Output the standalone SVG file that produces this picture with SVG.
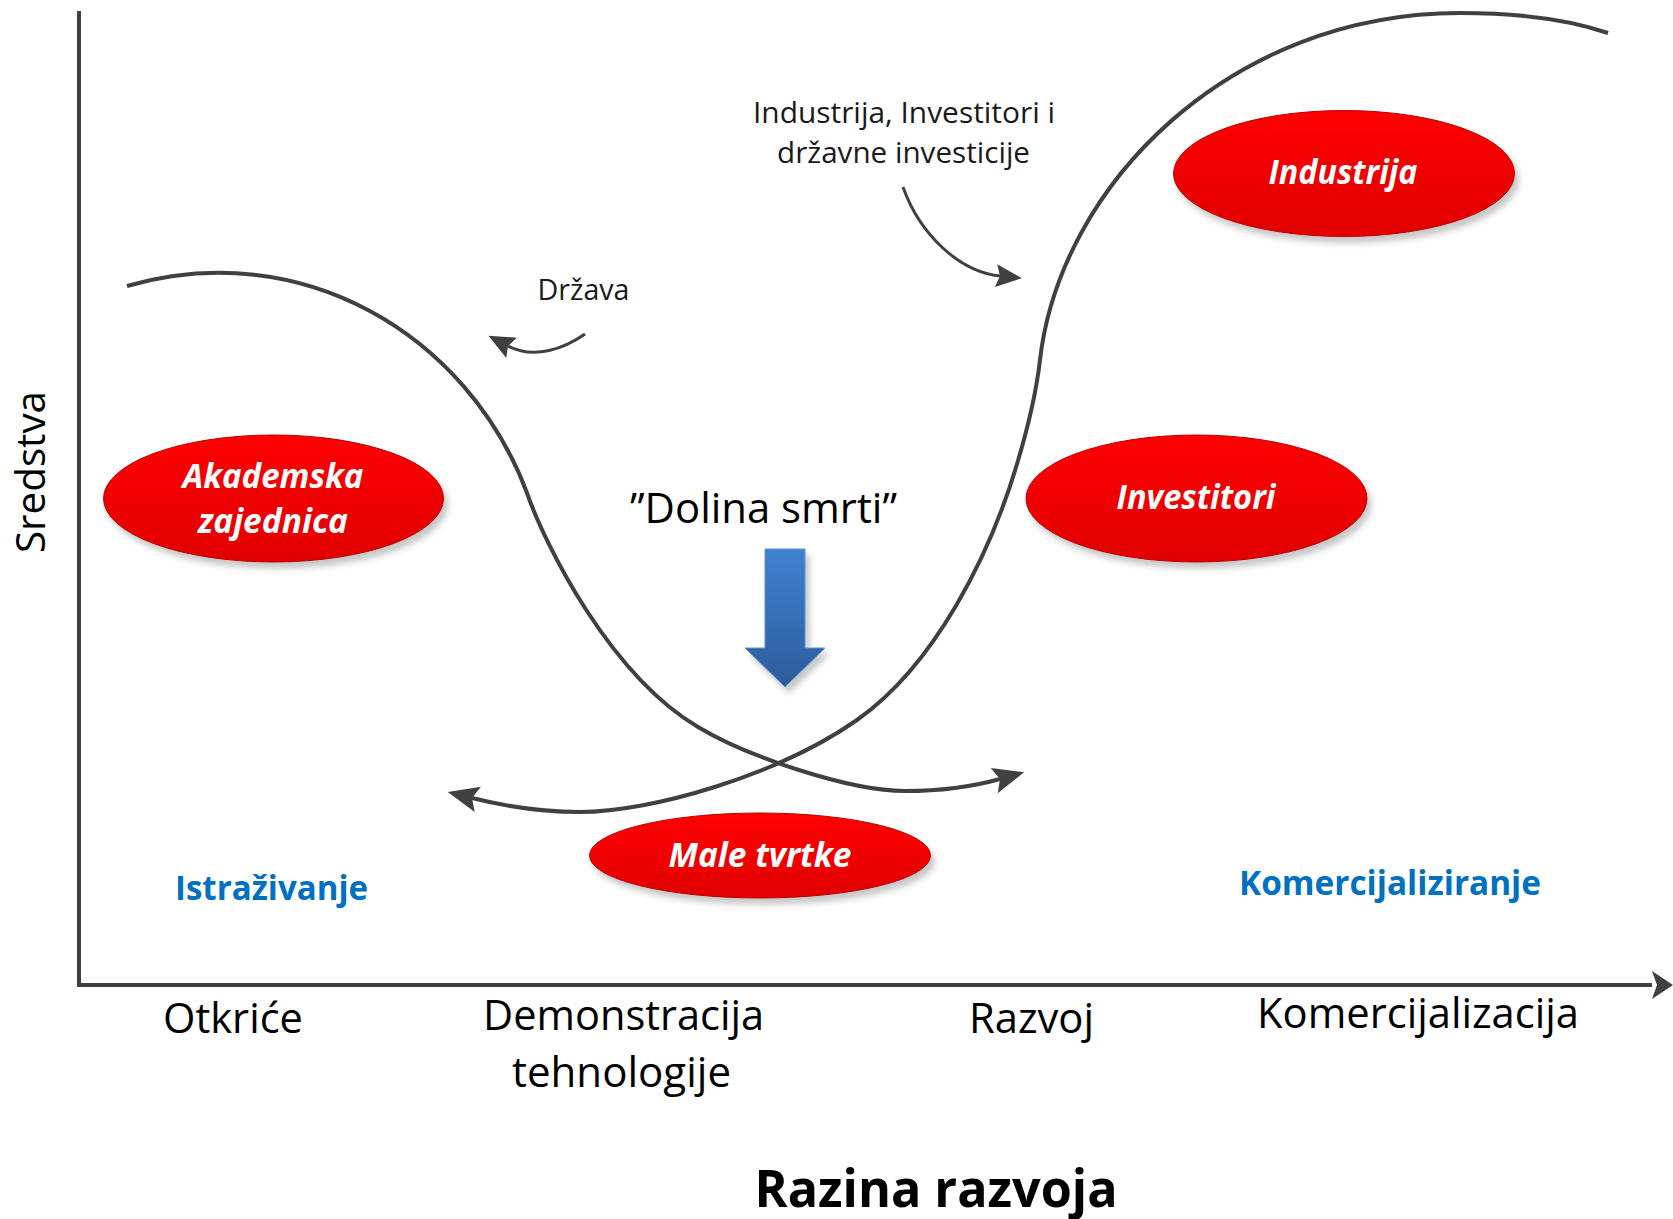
<svg xmlns="http://www.w3.org/2000/svg" width="1673" height="1219" viewBox="0 0 1673 1219">
<style>
  .txt { font-family: "Open Sans", "Liberation Sans", sans-serif; fill: #000; }
  .node-label { font-family: "Open Sans", "Liberation Sans", sans-serif; font-weight: bold; font-style: italic; font-size: 34px; fill: #fff; text-anchor: middle; }
  .phase { font-family: "Open Sans", "Liberation Sans", sans-serif; font-weight: bold; font-size: 34px; fill: #0070c0; text-anchor: middle; }
  .stage { font-family: "Open Sans", "Liberation Sans", sans-serif; font-size: 42px; fill: #000; text-anchor: middle; }
  .note { font-family: "Open Sans", "Liberation Sans", sans-serif; font-size: 29px; fill: #1a1a1a; text-anchor: middle; }
  .curve { fill: none; stroke: #404040; stroke-width: 4; }
  .thin { fill: none; stroke: #404040; stroke-width: 3; }
  .axis { fill: none; stroke: #404040; stroke-width: 4; }
  .blob { fill: url(#redGrad); stroke: #b80000; stroke-width: 1; filter: url(#shadow); }
</style>
<defs>
  <linearGradient id="redGrad" x1="0" y1="0" x2="0" y2="1">
    <stop offset="0" stop-color="#ff0000"/>
    <stop offset="1" stop-color="#e00000"/>
  </linearGradient>
  <linearGradient id="blueGrad" x1="0" y1="0" x2="0" y2="1">
    <stop offset="0" stop-color="#4181d1"/>
    <stop offset="1" stop-color="#2b5c99"/>
  </linearGradient>
  <filter id="shadow" x="-20%" y="-20%" width="140%" height="150%">
    <feGaussianBlur in="SourceAlpha" stdDeviation="3"/>
    <feOffset dx="4" dy="6" result="b"/>
    <feFlood flood-color="#000" flood-opacity="0.22"/>
    <feComposite in2="b" operator="in"/>
    <feMerge><feMergeNode/><feMergeNode in="SourceGraphic"/></feMerge>
  </filter>
  <marker id="headBig" markerUnits="userSpaceOnUse" markerWidth="40" markerHeight="40" refX="0" refY="0" orient="auto-start-reverse" overflow="visible">
    <path d="M25,0 L-6,-13 L0,0 L-6,13 Z" fill="#404040"/>
  </marker>
  <marker id="headSmall" markerUnits="userSpaceOnUse" markerWidth="40" markerHeight="40" refX="0" refY="0" orient="auto" overflow="visible">
    <path d="M22,0 L-4,-11.5 L0,0 L-4,11.5 Z" fill="#404040"/>
  </marker>
</defs>

<rect x="0" y="0" width="1673" height="1219" fill="#fff"/>

<g id="axes">
  <line class="axis" x1="79" y1="11" x2="79" y2="987"/>
  <line class="axis" x1="77" y1="985" x2="1652" y2="985"/>
  <path d="M1673,985 L1652,971 L1657,985 L1652,999 Z" fill="#404040"/>
  <text class="txt" font-size="40" text-anchor="middle" textLength="162" lengthAdjust="spacingAndGlyphs" transform="translate(45,472) rotate(-90)">Sredstva</text>
</g>

<g id="connectors">
  <path id="curve-academic" class="curve" marker-end="url(#headBig)" d="M127,286 C300,236 467,333 527,493 C545,545 610,675 698,727 C748,757 850,791 905,791 C940,791 975,786 1000,779"/>
  <path id="curve-industry" class="curve" marker-start="url(#headBig)" d="M472,798 C508,807 545,812 580,812 C650,812 777,776 857,720 C935,665 990,555 1017,464 C1029,424 1036,395 1040,360 C1060,185 1230,13 1460,13 C1520,13 1570,20 1608,33"/>
  <path id="arrow-drzava" class="thin" marker-end="url(#headSmall)" d="M585,334 C565,348 535,360 508,346"/>
  <path id="arrow-investicije" class="thin" marker-end="url(#headSmall)" d="M903,187 C920,235 960,272 1000,276"/>
</g>

<g id="node-akademska">
  <ellipse class="blob" cx="273.5" cy="498.5" rx="170" ry="63.5"/>
  <text class="node-label" x="273" y="488" textLength="181" lengthAdjust="spacingAndGlyphs">Akademska</text>
  <text class="node-label" x="273" y="533" textLength="150" lengthAdjust="spacingAndGlyphs">zajednica</text>
</g>

<g id="node-industrija">
  <ellipse class="blob" cx="1344" cy="173.5" rx="170.5" ry="63"/>
  <text class="node-label" x="1343" y="184" textLength="149" lengthAdjust="spacingAndGlyphs">Industrija</text>
</g>

<g id="node-investitori">
  <ellipse class="blob" cx="1196.5" cy="498.5" rx="170.5" ry="63.5"/>
  <text class="node-label" x="1196" y="509" textLength="159" lengthAdjust="spacingAndGlyphs">Investitori</text>
</g>

<g id="node-male-tvrtke">
  <ellipse class="blob" cx="760" cy="855.5" rx="170.5" ry="42.5"/>
  <text class="node-label" x="760" y="867" textLength="183" lengthAdjust="spacingAndGlyphs">Male tvrtke</text>
</g>

<g id="node-dolina">
  <text class="txt" font-size="42" text-anchor="middle" x="763.5" y="523" textLength="267" lengthAdjust="spacingAndGlyphs">”Dolina smrti”</text>
  <path d="M765,549 H805 V648 H825 L785,687 L745,648 H765 Z" fill="url(#blueGrad)" stroke="#5a92d8" stroke-width="1" filter="url(#shadow)"/>
</g>

<g id="labels">
  <text class="note" x="583.5" y="300" textLength="92" lengthAdjust="spacingAndGlyphs">Država</text>
  <text class="note" x="904" y="123" textLength="302" lengthAdjust="spacingAndGlyphs">Industrija, Investitori i</text>
  <text class="note" x="903.5" y="163" textLength="253" lengthAdjust="spacingAndGlyphs">državne investicije</text>
  <text class="phase" x="271.5" y="900" textLength="193" lengthAdjust="spacingAndGlyphs">Istraživanje</text>
  <text class="phase" x="1390" y="895" textLength="302" lengthAdjust="spacingAndGlyphs">Komercijaliziranje</text>
  <text class="stage" x="233" y="1033" textLength="140" lengthAdjust="spacingAndGlyphs">Otkriće</text>
  <text class="stage" x="623.5" y="1030" textLength="281" lengthAdjust="spacingAndGlyphs">Demonstracija</text>
  <text class="stage" x="621.5" y="1087" textLength="219" lengthAdjust="spacingAndGlyphs">tehnologije</text>
  <text class="stage" x="1031.5" y="1033" textLength="125" lengthAdjust="spacingAndGlyphs">Razvoj</text>
  <text class="stage" x="1418" y="1028" textLength="322" lengthAdjust="spacingAndGlyphs">Komercijalizacija</text>
  <text class="txt" font-size="52" font-weight="bold" text-anchor="middle" x="936" y="1207" textLength="363" lengthAdjust="spacingAndGlyphs">Razina razvoja</text>
</g>
</svg>
